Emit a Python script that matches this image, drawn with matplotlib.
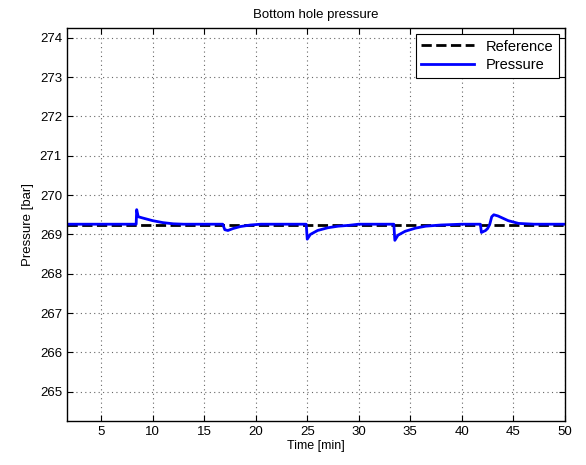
import matplotlib
matplotlib.use('Agg')
import matplotlib.pyplot as plt

# data
tiempo = [1.67, 8.4, 8.45, 8.6, 9, 10, 11, 12, 13, 14, 16.8, 17.0, 17.3, 17.8,
          18.5, 19.5, 20.5, 24.9, 25.0, 25.3, 26, 27, 28, 29, 30, 33.4, 33.5,
          33.8, 34.5, 35.5, 36.5, 38, 40, 41.8, 41.9, 42.3, 42.5, 42.7, 42.9,
          43.1, 43.5, 44.5, 45.5, 47, 50]
presion = [269.26, 269.26, 269.63, 269.45, 269.42, 269.35, 269.3, 269.27, 269.26,
           269.26, 269.26, 269.12, 269.1, 269.15, 269.2, 269.24, 269.26, 269.26,
           268.88, 269.0, 269.1, 269.17, 269.21, 269.23, 269.26, 269.26, 268.85,
           268.98, 269.08, 269.16, 269.21, 269.24, 269.26, 269.26, 269.05, 269.1,
           269.15, 269.25, 269.45, 269.5, 269.47, 269.35, 269.28, 269.26, 269.26]
referencia_t = [1.67, 50]
referencia = [269.235, 269.235]

xticks = [5, 10, 15, 20, 25, 30, 35, 40, 45, 50]
yticks = [265, 266, 267, 268, 269, 270, 271, 272, 273, 274]

plt.rcParams['font.family'] = ['Liberation Sans', 'DejaVu Sans']
plt.rcParams['font.size'] = 9.5

fig = plt.figure(figsize=(5.86, 4.65), dpi=100)
ax = fig.add_axes([0.114, 0.094, 0.850, 0.846])

ax.plot(referencia_t, referencia, 'k--', linewidth=2, label='Reference')
ax.plot(tiempo, presion, color='#0000ff', linewidth=2, label='Pressure')

ax.set_xlim(1.67, 50)
ax.set_ylim(264.25, 274.25)
ax.set_xticks(xticks)
ax.set_yticks(yticks)
ax.grid(True, linestyle=(0, (1, 3)), color='#666666', linewidth=0.8)
ax.tick_params(direction='in', top=True, right=True, length=4)
for s in ax.spines.values():
    s.set_linewidth(1.0)

ax.set_xlabel('Time [min]', labelpad=1, fontsize=9)
ax.set_ylabel('Pressure [bar]', fontsize=9.5)
ax.set_title('Bottom hole pressure', fontsize=9.5, pad=7)

leg = ax.legend(loc='upper right', fancybox=False, edgecolor='black',
                framealpha=1, fontsize=10.5, handlelength=3.6, borderaxespad=0.4,
                labelspacing=0.3, borderpad=0.4)
leg.get_frame().set_linewidth(0.8)

fig.savefig('out.png', dpi=100)
